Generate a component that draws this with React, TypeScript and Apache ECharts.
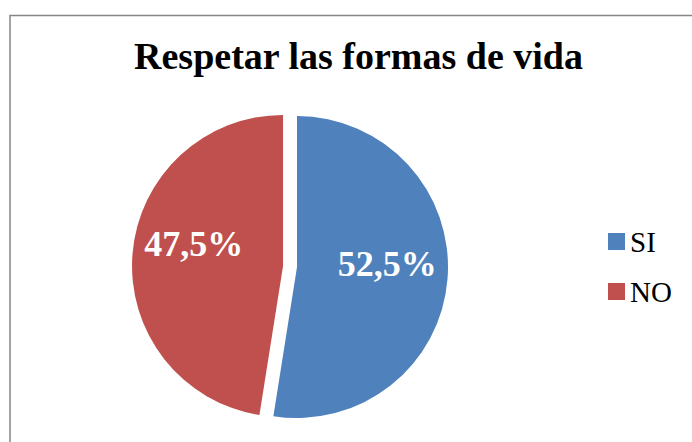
import React, { useEffect, useRef } from "react";
import * as echarts from "echarts";

const TITLE = "Respetar las formas de vida";
const categories = ["SI", "NO"];
const values = [52.5, 47.5];
const colors = ["#4F81BD", "#C0504D"];
const explodedIndex = 1;

const labelShift: Record<number, { dx: number; dy: number }> = {
  0: { dx: 12, dy: -9 },
  1: { dx: -11, dy: -16 },
};

const SERIF = "Liberation Serif";

export default function App() {
  const ref = useRef<HTMLDivElement>(null);

  useEffect(() => {
    if (!ref.current) return;
    const chart = echarts.init(ref.current, undefined, { renderer: "svg" });
    const data = categories.map((name, i) => ({
      name,
      value: values[i],
      selected: i === explodedIndex,
      itemStyle: { color: colors[i] },
    }));
    chart.setOption({
      animation: false,
      backgroundColor: "#ffffff",
      textStyle: { fontFamily: SERIF },
      graphic: [
        {
          type: "rect",
          shape: { x: 10, y: 15.5, width: 720, height: 500 },
          style: { fill: "none", stroke: "#868686", lineWidth: 1.5 },
          silent: true,
        },
        {
          type: "text",
          x: 358.5,
          y: 56,
          style: {
            text: TITLE,
            fill: "#000000",
            font: `bold 38px ${SERIF}`,
            textAlign: "center",
            textVerticalAlign: "middle",
          },
          silent: true,
        },
      ],
      legend: {
        orient: "vertical",
        left: 608,
        top: 227,
        padding: 0,
        itemWidth: 17,
        itemHeight: 17,
        itemGap: 21,
        icon: "rect",
        selectedMode: false,
        data: categories,
        textStyle: {
          fontFamily: SERIF,
          fontSize: 29,
          lineHeight: 29,
          color: "#000000",
        },
      },
      series: [
        {
          type: "pie",
          center: [297, 267],
          radius: 151,
          startAngle: 90,
          clockwise: true,
          selectedMode: "single",
          selectedOffset: 14,
          avoidLabelOverlap: false,
          emphasis: { disabled: true },
          select: { itemStyle: { borderWidth: 0 } },
          itemStyle: { borderWidth: 0 },
          label: {
            show: true,
            position: "inside",
            color: "#ffffff",
            fontFamily: SERIF,
            fontWeight: "bold",
            fontSize: 36,
            formatter: (p: any) => `${String(p.value).replace(".", ",")}%`,
          },
          labelLine: { show: false },
          labelLayout: (params: any) => labelShift[params.dataIndex] || {},
          data,
        },
      ],
    });
    return () => chart.dispose();
  }, []);

  return (
    <div
      ref={ref}
      style={{
        position: "fixed",
        left: 0,
        top: 0,
        width: 692,
        height: 442,
        background: "#ffffff",
      }}
    />
  );
}
